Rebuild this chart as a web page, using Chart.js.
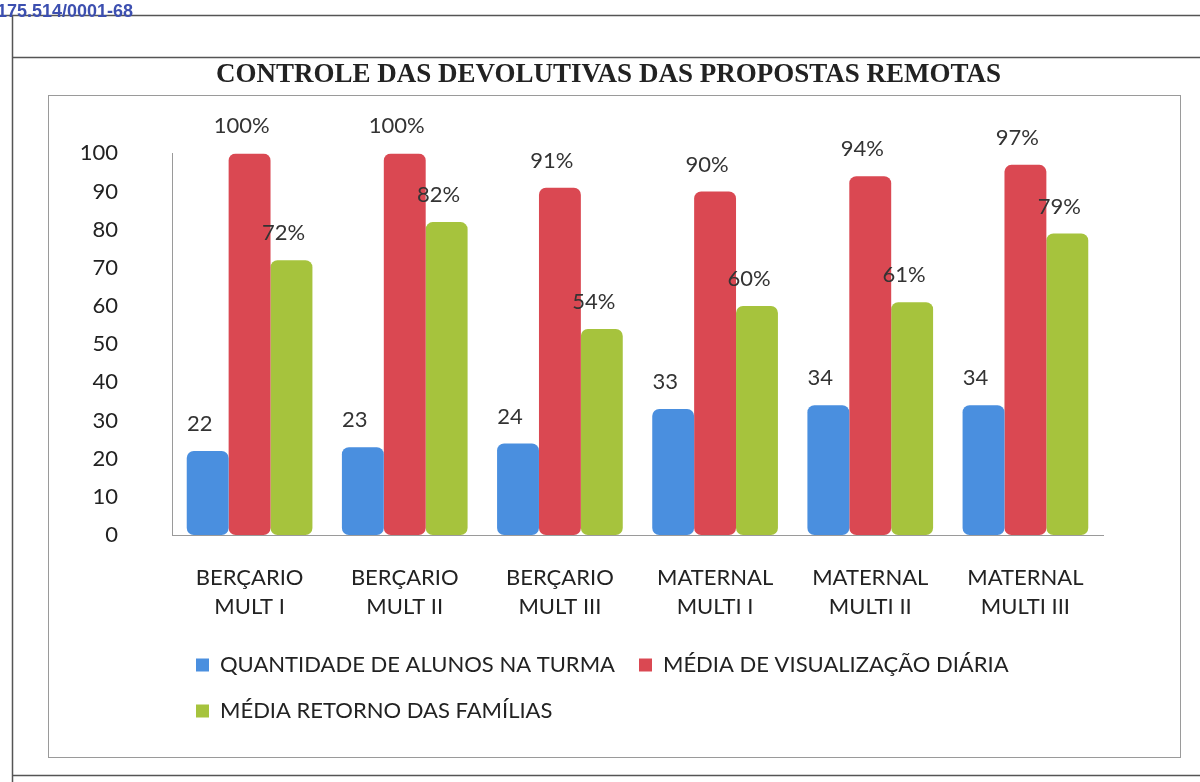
<!DOCTYPE html>
<html>
<head>
<meta charset="utf-8">
<script src="https://cdn.jsdelivr.net/npm/chart.js@4.4.1/dist/chart.umd.min.js"></script>
<style>
  html, body { margin: 0; padding: 0; background: #fff; }
  #wrap { width: 1200px; height: 782px; }
</style>
</head>
<body>
<div id="wrap"><canvas id="devolutivas" width="1200" height="782"></canvas></div>
<script>
// data
const turmas = [
    ['BERÇARIO', 'MULT I'],
    ['BERÇARIO', 'MULT II'],
    ['BERÇARIO', 'MULT III'],
    ['MATERNAL', 'MULTI I'],
    ['MATERNAL', 'MULTI II'],
    ['MATERNAL', 'MULTI III']
];
const qtdAlunos = [22, 23, 24, 33, 34, 34];
const mediaVisualizacao = [100, 100, 91, 90, 94, 97];
const mediaRetorno = [72, 82, 54, 60, 61, 79];
const yMin = 0, yMax = 100, yStep = 10;

const FONT = 'Lato, "Open Sans", sans-serif';

// page frame of the scanned sheet (lines + header stamp)
const pageFrame = {
    id: 'pageFrame',
    afterLayout(chart) {
        // title sits a bit right of the full-width centre in the original
        if (chart.titleBlock) {
            chart.titleBlock.left += 17;
            chart.titleBlock.right += 17;
        }
    },
    beforeDraw(chart) {
        const c = chart.ctx;
        c.save();
        c.fillStyle = '#fff';
        c.fillRect(0, 0, chart.width, chart.height);
        c.strokeStyle = '#555';
        c.lineWidth = 1.5;
        c.beginPath();
        c.moveTo(0, 15.5); c.lineTo(1200, 15.5);
        c.moveTo(12.5, 15); c.lineTo(12.5, 782);
        c.moveTo(12, 57.5); c.lineTo(1200, 57.5);
        c.moveTo(12, 775.5); c.lineTo(1200, 775.5);
        c.stroke();
        c.strokeStyle = '#9a9a9a';
        c.lineWidth = 1;
        c.strokeRect(48.5, 95.5, 1132, 662);
        c.fillStyle = '#3c4fb0';
        c.font = 'bold 18px "Liberation Sans", Arial, sans-serif';
        c.textBaseline = 'middle';
        c.fillText('175.514/0001-68', -3, 12);
        c.restore();
    }
};

// value labels above each bar
const valueLabels = {
    id: 'valueLabels',
    afterDatasetsDraw(chart) {
        const c = chart.ctx;
        c.save();
        c.font = '22px ' + FONT;
        c.fillStyle = '#333';
        c.textAlign = 'center';
        c.textBaseline = 'middle';
        chart.data.datasets.forEach((ds, i) => {
            chart.getDatasetMeta(i).data.forEach((bar, j) => {
                const txt = ds.data[j] + (ds.suffix || '');
                c.fillText(txt, bar.x - 8, bar.y - 27);
            });
        });
        c.restore();
    }
};

const chartData = {
    labels: turmas,
    datasets: [{
        label: 'QUANTIDADE DE ALUNOS NA TURMA',
        data: qtdAlunos,
        suffix: '',
        backgroundColor: '#4a8fdf'
    },
    {
        label: 'MÉDIA DE VISUALIZAÇÃO DIÁRIA',
        data: mediaVisualizacao,
        suffix: '%',
        backgroundColor: '#da4852'
    },
    {
        label: 'MÉDIA RETORNO DAS FAMÍLIAS',
        data: mediaRetorno,
        suffix: '%',
        backgroundColor: '#a6c33d'
    }]
};

const options = {
    responsive: false,
    animation: false,
    layout: {
        padding: { left: 80, right: 97, top: 59, bottom: 50 }
    },
    datasets: {
        bar: {
            categoryPercentage: 0.81,
            barPercentage: 1,
            borderRadius: 7,
            borderSkipped: false
        }
    },
    scales: {
        x: {
            grid: { display: false, drawTicks: false },
            border: { display: true, color: '#9a9a9a' },
            ticks: {
                color: '#222',
                padding: 28,
                font: { family: FONT, size: 22, lineHeight: 1.32 }
            },
            afterFit(scale) { scale.height = 95; }
        },
        y: {
            min: yMin,
            max: yMax,
            grid: { display: false, drawTicks: false },
            border: { display: true, color: '#9a9a9a' },
            ticks: {
                stepSize: yStep,
                color: '#222',
                padding: 54,
                font: { family: FONT, size: 22 }
            },
            afterFit(scale) { scale.width = 92; }
        }
    },
    plugins: {
        title: {
            display: true,
            text: 'CONTROLE DAS DEVOLUTIVAS DAS PROPOSTAS REMOTAS',
            color: '#222',
            font: { family: '"Liberation Serif", "DejaVu Serif", serif', size: 27, weight: 'bold' },
            padding: { top: 0, bottom: 62 }
        },
        legend: {
            position: 'bottom',
            align: 'start',
            fullSize: false,
            labels: {
                color: '#222',
                boxWidth: 13,
                boxHeight: 13,
                padding: 24,
                font: { family: FONT, size: 22 }
            }
        },
        tooltip: { enabled: false }
    }
};

const devolutivasChart = new Chart(
    document.getElementById('devolutivas'),
    {
        type: 'bar',
        data: chartData,
        options: options,
        plugins: [pageFrame, valueLabels]
    }
);
</script>
</body>
</html>
